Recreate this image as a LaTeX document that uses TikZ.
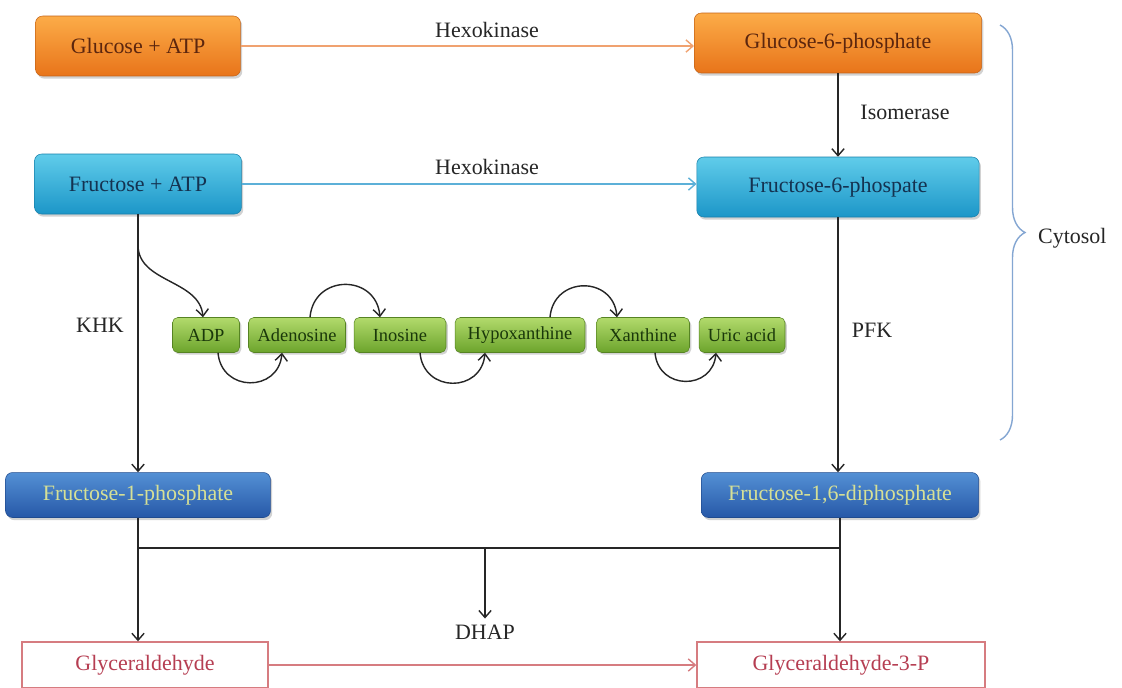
\documentclass[tikz,border=0pt]{standalone}
\usepackage{fontspec}
\setmainfont{Liberation Serif}
\usetikzlibrary{arrows.meta,positioning,shadows,calc,decorations.pathreplacing}
\definecolor{orgtop}{RGB}{252,172,72}
\definecolor{orgbot}{RGB}{232,116,26}
\definecolor{orgtext}{RGB}{92,38,14}
\definecolor{orgline}{RGB}{240,162,112}
\definecolor{cyntop}{RGB}{96,204,234}
\definecolor{cynbot}{RGB}{28,150,200}
\definecolor{cyntext}{RGB}{20,50,80}
\definecolor{cynline}{RGB}{92,176,216}
\definecolor{blutop}{RGB}{84,144,212}
\definecolor{blubot}{RGB}{38,88,168}
\definecolor{blutext}{RGB}{214,224,150}
\definecolor{grntop}{RGB}{178,218,108}
\definecolor{grnbot}{RGB}{108,164,44}
\definecolor{grntext}{RGB}{26,56,10}
\definecolor{redline}{RGB}{214,124,128}
\definecolor{redtext}{RGB}{182,62,82}
\definecolor{braceblue}{RGB}{132,166,210}

\begin{document}
\begin{tikzpicture}[x=0.02cm, y=-0.02cm,
    box/.style={rectangle, rounded corners=4pt, minimum height=1.2cm,
                align=center, font=\fontsize{12.5}{15}\selectfont,
                drop shadow={opacity=0.35, shadow xshift=1pt, shadow yshift=-1.5pt}},
    orangebox/.style={box, top color=orgtop, bottom color=orgbot, draw=orgbot!85!black, line width=0.3pt, text=orgtext},
    cyanbox/.style={box, top color=cyntop, bottom color=cynbot, draw=cynbot!85!black, line width=0.3pt, text=cyntext},
    bluebox/.style={box, minimum height=0.9cm, top color=blutop, bottom color=blubot, draw=blubot!85!black, line width=0.3pt, text=blutext},
    greenbox/.style={rectangle, rounded corners=3pt, minimum height=0.7cm, inner xsep=2pt,
                font=\fontsize{10.5}{12}\selectfont, text=grntext,
                top color=grntop, bottom color=grnbot, draw=grnbot!80!black, line width=0.3pt,
                drop shadow={opacity=0.35, shadow xshift=1pt, shadow yshift=-1.2pt}},
    redbox/.style={rectangle, draw=redline, line width=0.8pt, minimum height=0.92cm,
                font=\fontsize{12.5}{15}\selectfont, text=redtext},
    enzyme/.style={font=\fontsize{12.5}{15}\selectfont, text=black!85},
    arr/.style={-{Straight Barb[length=4pt,width=7pt]}, line width=0.8pt},
    curv/.style={-{Straight Barb[length=4pt,width=7pt]}, line width=0.8pt, black!85}
]
\path[use as bounding box, clip] (0,0) rectangle (1122,687);
\fill[white] (0,0) rectangle (1122,687);

% top rows
\node[orangebox, minimum width=4.1cm] (glu) at (138,46) {Glucose + ATP};
\node[orangebox, minimum width=5.75cm] (g6p) at (838,43) {Glucose-6-phosphate};
\node[cyanbox, minimum width=4.14cm] (fru) at (138,184) {Fructose + ATP};
\node[cyanbox, minimum width=5.65cm] (f6p) at (838,187) {Fructose-6-phospate};
\draw[arr, orgline] (glu.east) -- (glu.east -| g6p.west);
\node[enzyme] (hk1) at (487,30) {Hexokinase};
\draw[arr, cynline] (fru.east) -- (fru.east -| f6p.west);
\node[enzyme] (hk2) at (487,167) {Hexokinase};
\draw[arr, black!85] (g6p) -- (f6p);
\node[enzyme] (iso) at (905,112) {Isomerase};

% purine row
\node[greenbox, minimum width=1.34cm] (adp) at (206,335) {ADP};
\node[greenbox, minimum width=1.94cm] (ado) at (297,335) {Adenosine};
\node[greenbox, minimum width=1.84cm] (ino) at (400,335) {Inosine};
\node[greenbox, minimum width=2.6cm] (hyp) at (520,335) {Hypoxanthine};
\node[greenbox, minimum width=1.86cm] (xan) at (643,335) {Xanthine};
\node[greenbox, minimum width=1.72cm] (uri) at (742,335) {Uric acid};

% phosphates
\node[bluebox, minimum width=5.3cm] (f1p) at (138,495) {Fructose-1-phosphate};
\node[bluebox, minimum width=5.55cm] (f16) at (840,495) {Fructose-1,6-diphosphate};
\draw[arr, black!85] (fru.south) -- (fru.south |- f1p.north);
\node[enzyme] (khk) at (100,325) {KHK};
\draw[arr, black!85] (f6p.south) -- (f6p.south |- f16.north);
\node[enzyme] (pfk) at (872,330) {PFK};

% side branch to the purines
\coordinate (br) at (138,245);
\draw[curv] (br) to[out=-90,in=95] ($(adp.north)+(-3,0)$);
\draw[curv] ($(ado.north)+(13,0)$) to[out=85,in=95,looseness=1.6] ($(ino.north)+(-20,0)$);
\draw[curv] ($(hyp.north)+(30,0)$) to[out=85,in=95,looseness=1.6] ($(xan.north)+(-26,0)$);
\draw[curv] ($(adp.south)+(12,0)$) to[out=-85,in=-95,looseness=1.6] ($(ado.south)+(-15,0)$);
\draw[curv] ($(ino.south)+(20,0)$) to[out=-85,in=-95,looseness=1.6] ($(hyp.south)+(-35,0)$);
\draw[curv] ($(xan.south)+(12,0)$) to[out=-85,in=-95,looseness=1.6] ($(uri.south)+(-26,0)$);

% cleavage
\node[redbox, minimum width=4.92cm] (gly) at (145,665) {Glyceraldehyde};
\node[redbox, minimum width=5.76cm] (g3p) at (841,665) {Glyceraldehyde-3-P};
\node[enzyme] (dhap) at (485,632) {DHAP};
\coordinate (j1) at (f1p.south |- 0,548);
\coordinate (j2) at (f16.south |- 0,548);
\coordinate (j3) at (dhap.north |- j1);
\draw[line width=0.8pt, black!85] (j1) -- (j2);
\draw[arr, black!85] (f1p.south) -- (f1p.south |- gly.north);
\draw[arr, black!85] (f16.south) -- (f16.south |- g3p.north);
\draw[arr, black!85] (j3) -- (dhap.north);
\draw[arr, redline] (gly.east) -- (gly.east -| g3p.west);

% compartment
\coordinate (bt) at (1000,25);
\coordinate (bb) at (1000,440);
\draw[braceblue, line width=0.8pt, decorate, decoration={brace, amplitude=0.5cm}] (bt) -- (bb);
\node[enzyme, anchor=west] (cyt) at (1032,238) {Cytosol};
\end{tikzpicture}
\end{document}
